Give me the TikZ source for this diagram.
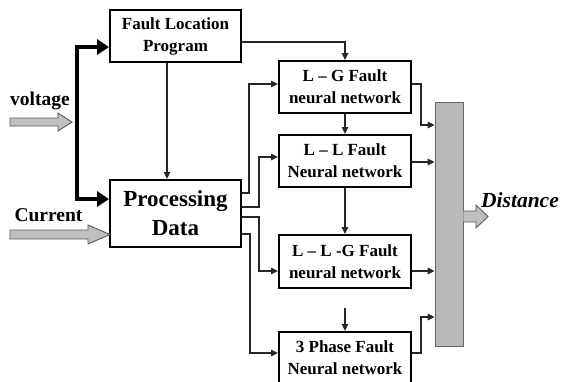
\documentclass[tikz,border=0pt]{standalone}
\usepackage{fontspec}
\setmainfont{Liberation Serif}
\usetikzlibrary{arrows.meta}
\begin{document}
\begin{tikzpicture}[x=1pt,y=-1pt,
  box/.style={draw=black,line width=2pt,fill=white,inner sep=0pt,align=center,
    font=\fontsize{17}{22}\selectfont\bfseries,minimum width=132pt,minimum height=52pt},
  conn/.style={draw=black!85,line width=1.4pt,-{Triangle[length=7pt,width=6.5pt]}},
  thickconn/.style={draw=black,line width=4.5pt,{Triangle[length=12pt,width=15pt]}-{Triangle[length=12pt,width=15pt]}},
  hollow/.style={draw=black!65,line width=0.9pt,fill=gray!50},
  lbl/.style={inner sep=0pt,font=\fontsize{19.5}{22}\selectfont\bfseries}]
\useasboundingbox (0,0) rectangle (563,381);
% boxes
\node[box,minimum width=131pt] (FLP) at (175.5,36) {Fault Location\\Program};
\node[box,minimum width=131pt,minimum height=67pt,font=\fontsize{23}{29}\selectfont\bfseries] (PD) at (175.5,213.5) {Processing\\Data};
\node[box] (LG) at (345,87) {L -- G Fault\\neural network};
\node[box] (LL) at (345,161) {L -- L Fault\\Neural network};
\node[box,minimum height=53pt] (LLG) at (345,261.5) {L -- L -G Fault\\neural network};
\node[box] (TP) at (345,358) {3 Phase Fault\\Neural network};
\node[draw=black!60,line width=0.8pt,fill=gray!55,minimum width=28pt,minimum height=244pt,inner sep=0pt] (bar) at (449,224) {};
% labels
\node[lbl] (volt) at (40,101) {voltage};
\node[lbl] (curr) at (48.5,215.5) {Current};
\node[inner sep=0pt,font=\fontsize{21.5}{24}\selectfont\bfseries\itshape] (dist) at (520,200) {Distance};
% hollow arrows
\draw[hollow] (10,118) -- (58,118) -- (58,113) -- (72,122) -- (58,131) -- (58,126) -- (10,126) -- cycle;
\draw[hollow] (10,230) -- (88,230) -- (88,225) -- (110,234.5) -- (88,244) -- (88,239) -- (10,239) -- cycle;
\draw[hollow] (bar.east |- 0,211) -- (476,211) -- (476,205) -- (488,216.5) -- (476,228) -- (476,222) -- (bar.east |- 0,222);
% thick input lines
\draw[thickconn] ([yshift=-11pt]FLP.west) -- (77,47) -- (77,199) -- ([yshift=14.5pt]PD.west);
% FLP connections
\draw[conn] ([xshift=-8.5pt]FLP.south) -- ([xshift=-8.5pt]PD.north);
\draw[conn] ([yshift=-6pt]FLP.east) -| (LG.north);
% PD outputs
\draw[conn] ([yshift=20.5pt]PD.east) -- ++(7,0) |- ([yshift=3pt]LG.west);
\draw[conn] ([yshift=6.5pt]PD.east) -- ++(17,0) |- ([yshift=4pt]LL.west);
\draw[conn] ([yshift=-3.5pt]PD.east) -- ++(17,0) |- ([yshift=-9.5pt]LLG.west);
\draw[conn] ([yshift=-20.5pt]PD.east) -- ++(8,0) |- ([yshift=5pt]TP.west);
% vertical chain
\draw[conn] (LG.south) -- (LL.north);
\draw[conn] (LL.south) -- (LLG.north);
\coordinate (free) at (345,308);
\draw[conn] (free) -- (TP.north);
% to bar
\draw[conn] ([yshift=3pt]LG.east) -- ++(9,0) |- ([yshift=99pt]bar.west);
\draw[conn] ([yshift=-1pt]LL.east) -- ([yshift=-1pt]LL.east -| bar.west);
\draw[conn] ([yshift=-9.5pt]LLG.east) -- ([yshift=-9.5pt]LLG.east -| bar.west);
\draw[conn] ([yshift=5pt]TP.east) -- ++(9,0) |- ([yshift=-93pt]bar.west);
\end{tikzpicture}
\end{document}
